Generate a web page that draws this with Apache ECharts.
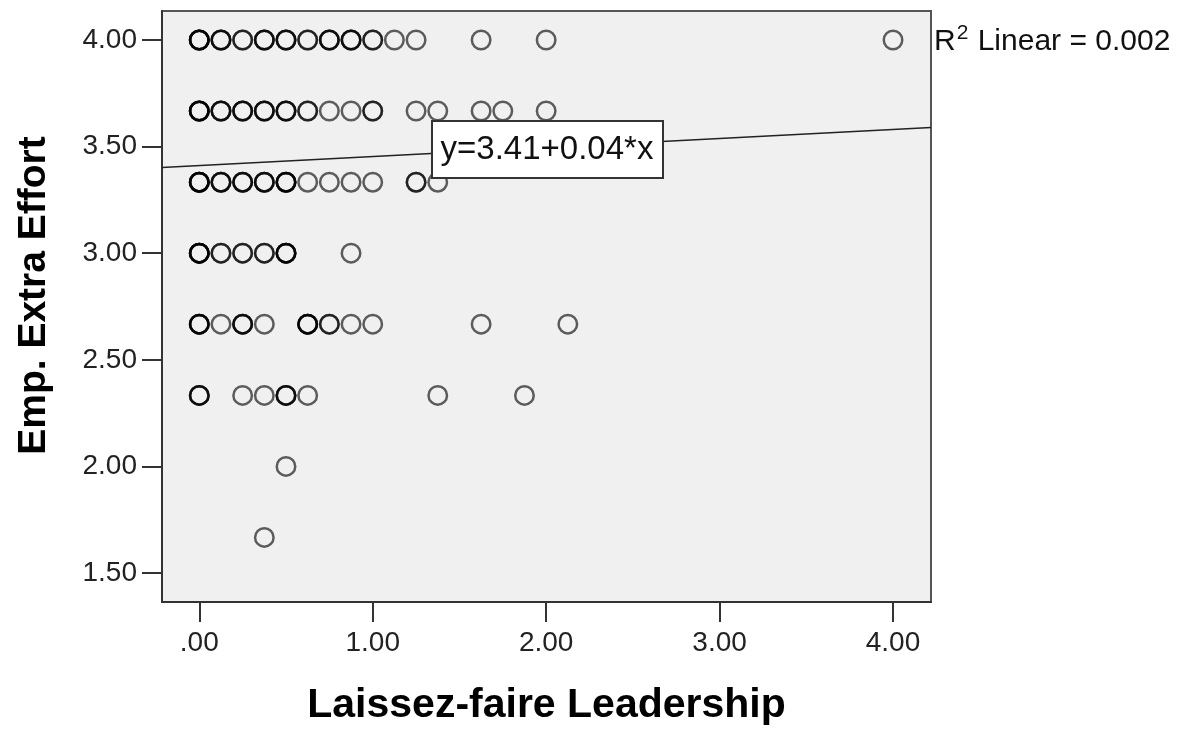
<!DOCTYPE html>
<html><head><meta charset="utf-8">
<script src="https://cdn.jsdelivr.net/npm/echarts@6/dist/echarts.min.js"></script>
<style>html,body{margin:0;padding:0;background:#fff}#c{width:1191px;height:731px}</style>
</head><body><div id="c"></div><script>
// Y levels (Emp. Extra Effort) of each row of points
const yLevels = [4.000, 3.667, 3.333, 3.000, 2.667, 2.333, 2.000, 1.667];
// X values (Laissez-faire Leadership) of the points in each row
const xValuesByRow = [
  [0, 0.125, 0.25, 0.375, 0.5, 0.625, 0.75, 0.875, 1.0, 1.125, 1.25, 1.625, 2.0, 4.0],
  [0, 0.125, 0.25, 0.375, 0.5, 0.625, 0.75, 0.875, 1.0, 1.25, 1.375, 1.625, 1.75, 2.0],
  [0, 0.125, 0.25, 0.375, 0.5, 0.625, 0.75, 0.875, 1.0, 1.25, 1.375],
  [0, 0.125, 0.25, 0.375, 0.5, 0.875],
  [0, 0.125, 0.25, 0.375, 0.625, 0.75, 0.875, 1.0, 1.625, 2.125],
  [0, 0.25, 0.375, 0.5, 0.625, 1.375, 1.875],
  [0.5],
  [0.375]
];
// estimated number of overlapping cases at each point (from darkness)
const countsByRow = [
  [5, 3, 2, 3, 3, 2, 3, 3, 2, 1, 1, 1, 1, 1],
  [5, 3, 3, 3, 3, 2, 1, 1, 2, 1, 1, 1, 1, 1],
  [5, 3, 3, 3, 4, 1, 1, 1, 1, 2, 1],
  [5, 2, 2, 2, 4, 1],
  [4, 1, 3, 1, 4, 2, 1, 1, 1, 1],
  [3, 1, 1, 3, 1, 1, 1],
  [1],
  [1]
];
const xTickValues = [0, 1, 2, 3, 4];
const xTickLabels = ['.00', '1.00', '2.00', '3.00', '4.00'];
const yTickValues = [1.5, 2.0, 2.5, 3.0, 3.5, 4.0];
const yTickLabels = ['1.50', '2.00', '2.50', '3.00', '3.50', '4.00'];
const fitLine = [[-0.215, 3.402], [4.219, 3.589]];
const fitEquation = 'y=3.41+0.04*x';
const r2Value = '0.002';
const xTitle = 'Laissez-faire Leadership';
const yTitle = 'Emp. Extra Effort';

const FONT = "'Liberation Sans', Arial, sans-serif";
const points = [];
yLevels.forEach((y, r) => {
  xValuesByRow[r].forEach((x, i) => {
    for (let k = 0; k < countsByRow[r][i]; k++) points.push([x, y]);
  });
});

const chart = echarts.init(document.getElementById('c'), null, {renderer: 'canvas'});
chart.setOption({
  animation: false,
  backgroundColor: '#ffffff',
  grid: {
    left: 162, right: 260, top: 11, bottom: 128,
    show: true, backgroundColor: '#f0f0f0', borderColor: '#555', borderWidth: 2
  },
  xAxis: {
    type: 'value', min: -0.215, max: 4.219,
    name: xTitle, nameLocation: 'middle', nameGap: 83,
    nameTextStyle: {fontFamily: FONT, fontWeight: 'bold', fontSize: 41, color: '#000'},
    axisLine: {show: true, onZero: false, lineStyle: {color: '#333', width: 2}},
    axisTick: {show: true, length: 20, customValues: xTickValues, lineStyle: {color: '#333', width: 2}},
    axisLabel: {
      customValues: xTickValues, margin: 27, fontFamily: FONT, fontSize: 28, color: '#222',
      formatter: v => xTickLabels[xTickValues.indexOf(v)]
    },
    splitLine: {show: false}
  },
  yAxis: {
    type: 'value', min: 1.364, max: 4.136,
    name: yTitle, nameLocation: 'middle', nameGap: 108, nameRotate: 90,
    nameTextStyle: {fontFamily: FONT, fontWeight: 'bold', fontSize: 39, color: '#000', padding: [0, 0, 0, 22]},
    axisLine: {show: true, onZero: false, lineStyle: {color: '#333', width: 2}},
    axisTick: {show: true, length: 20, customValues: yTickValues, lineStyle: {color: '#333', width: 2}},
    axisLabel: {
      customValues: yTickValues, margin: 25, fontFamily: FONT, fontSize: 28, color: '#222',
      formatter: v => yTickLabels[yTickValues.indexOf(v)]
    },
    splitLine: {show: false}
  },
  series: [
    {
      type: 'line', data: fitLine, symbol: 'none', silent: true, z: 1,
      lineStyle: {color: '#222', width: 1.5}
    },
    {
      type: 'scatter', data: points, symbol: 'circle', symbolSize: 18.5, z: 2,
      itemStyle: {color: 'rgba(0,0,0,0)', borderColor: 'rgba(0,0,0,0.62)', borderWidth: 2.5, opacity: 1}
    }
  ],
  graphic: [
    {type: 'rect', z: 100, zlevel: 1, shape: {x: 432, y: 121, width: 231, height: 57},
     style: {fill: '#ffffff', stroke: '#333', lineWidth: 2}},
    {type: 'text', z: 101, zlevel: 1, x: 547, y: 150,
     style: {text: fitEquation, font: "33px " + FONT, fill: '#111', align: 'center', verticalAlign: 'middle'}},
    {
      type: 'text', x: 934, y: 40, z: 100, zlevel: 1,
      style: {
        text: '{r|R}{s|2}{r| Linear = ' + r2Value + '}',
        verticalAlign: 'middle',
        rich: {
          r: {font: "30px " + FONT, fill: '#111', lineHeight: 34, verticalAlign: 'bottom'},
          s: {font: "21px " + FONT, fill: '#111', lineHeight: 34, verticalAlign: 'top', padding: [0, 1, 0, 1]}
        }
      }
    }
  ]
});
</script></body></html>
